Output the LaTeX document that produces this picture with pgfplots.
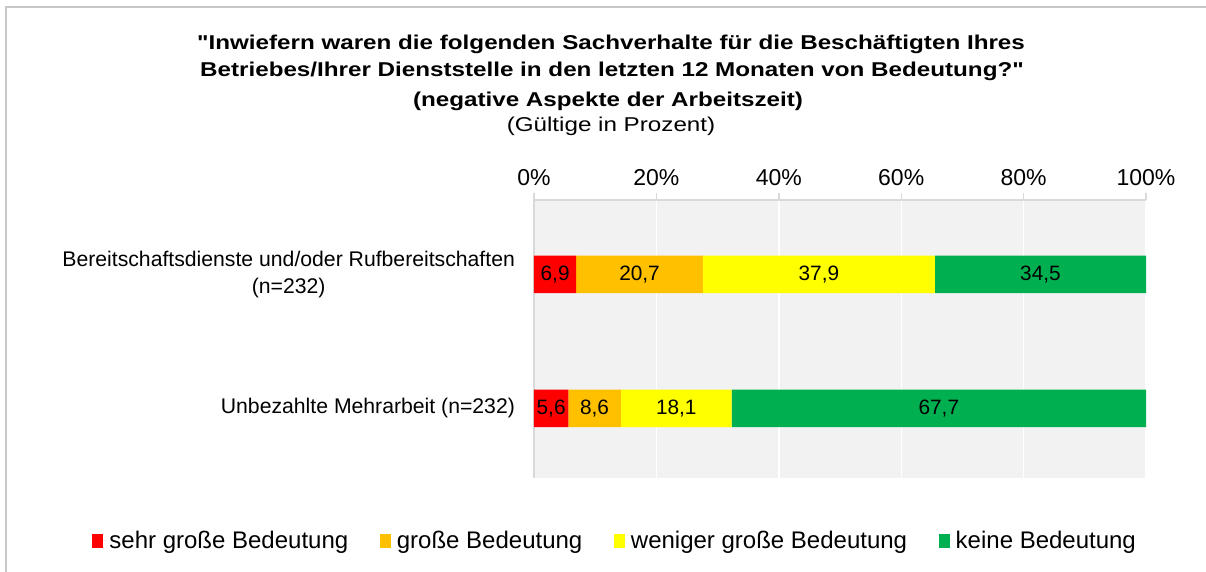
\documentclass[border=0pt]{standalone}
\usepackage{fontspec}
\setmainfont{Liberation Sans}
\newfontfamily\titlefont[FakeStretch=1.21]{Liberation Sans}
\usepackage{pgfplots}
\usepackage{pgfplotstable}
\pgfplotsset{compat=1.18}
\definecolor{cred}{HTML}{FF0000}
\definecolor{corange}{HTML}{FFC000}
\definecolor{cyellow}{HTML}{FFFF00}
\definecolor{cgreen}{HTML}{00B050}
\definecolor{bgc}{HTML}{F2F2F2}
\definecolor{axc}{HTML}{D9D9D9}
\definecolor{framec}{HTML}{C8C8C8}

\pgfplotstableread{
y v lab
1 6.9 6,9
0 5.6 5,6
}\tred
\pgfplotstableread{
y v lab
1 20.7 20,7
0 8.6 8,6
}\torange
\pgfplotstableread{
y v lab
1 37.9 37,9
0 18.1 18,1
}\tyellow
\pgfplotstableread{
y v lab
1 34.5 34,5
0 67.7 67,7
}\tgreen

\begin{document}
\begin{tikzpicture}
\useasboundingbox (0,0) rectangle (603pt,286pt);
\draw[framec, line width=1pt] (3pt,0) -- (3pt,282.5pt) -- (603pt,282.5pt);
\node[anchor=base, font=\titlefont\bfseries\fontsize{10}{12}\selectfont] at (305.5pt,261pt) {"Inwiefern waren die folgenden Sachverhalte für die Beschäftigten Ihres};
\node[anchor=base, font=\titlefont\bfseries\fontsize{10}{12}\selectfont] at (306pt,247.5pt) {Betriebes/Ihrer Dienststelle in den letzten 12 Monaten von Bedeutung?"};
\node[anchor=base, font=\titlefont\bfseries\fontsize{10}{12}\selectfont] at (304pt,232.75pt) {(negative Aspekte der Arbeitszeit)};
\node[anchor=base, font=\titlefont\fontsize{10}{12}\selectfont] at (305.5pt,220.25pt) {(Gültige in Prozent)};
\begin{axis}[
  at={(267pt,47pt)}, anchor=south west,
  scale only axis, width=306pt, height=139pt,
  xbar stacked, bar width=18.75pt,
  xmin=0, xmax=100, ymin=-0.519, ymax=1.556,
  axis background/.style={fill=bgc},
  axis x line*=top, axis y line*=left,
  axis line style={draw=axc, line width=0.8pt},
  xtick={0,20,40,60,80,100},
  xticklabels={0\%,20\%,40\%,60\%,80\%,100\%},
  xticklabel style={font=\fontsize{11.5}{13}\selectfont},
  xmajorgrids, major grid style={white, line width=0.7pt},
  tick align=outside, major tick length=3.5pt,
  x tick style={draw=axc, line width=0.7pt},
  ytick={0,1},
  yticklabels={Unbezahlte Mehrarbeit (n=232), {Bereitschaftsdienste und/oder Rufbereitschaften\\(n=232)}},
  yticklabel style={align=center, font=\fontsize{10.6}{13.5}\selectfont, xshift=-2.5pt},
  y tick style={draw=none},
  extra y ticks={-0.519,0.5,1.556}, extra y tick labels={},
  extra y tick style={major tick length=4pt, tick style={draw=axc, line width=0.7pt}, grid=none},
  nodes near coords,
  point meta=explicit symbolic,
  every node near coord/.append style={font=\fontsize{10.4}{12}\selectfont, anchor=center, text=black},
  legend columns=4,
  legend style={at={(0.1343,-0.2266)}, anchor=center, draw=none, fill=none,
    font=\fontsize{12}{14}\selectfont,
    /tikz/every even column/.append style={column sep=13.8pt}},
  legend image code/.code={\fill[#1] (0pt,-3.3pt) rectangle (5.5pt,3.3pt); \path (0pt,0pt) -- (6.5pt,0pt);},
]
\addplot[fill=cred, draw=none] table[x=v, y=y, meta=lab] {\tred};
\addplot[fill=corange, draw=none] table[x=v, y=y, meta=lab] {\torange};
\addplot[fill=cyellow, draw=none] table[x=v, y=y, meta=lab] {\tyellow};
\addplot[fill=cgreen, draw=none] table[x=v, y=y, meta=lab] {\tgreen};
\legend{sehr große Bedeutung, große Bedeutung, weniger große Bedeutung, keine Bedeutung}
\end{axis}
\end{tikzpicture}
\end{document}
